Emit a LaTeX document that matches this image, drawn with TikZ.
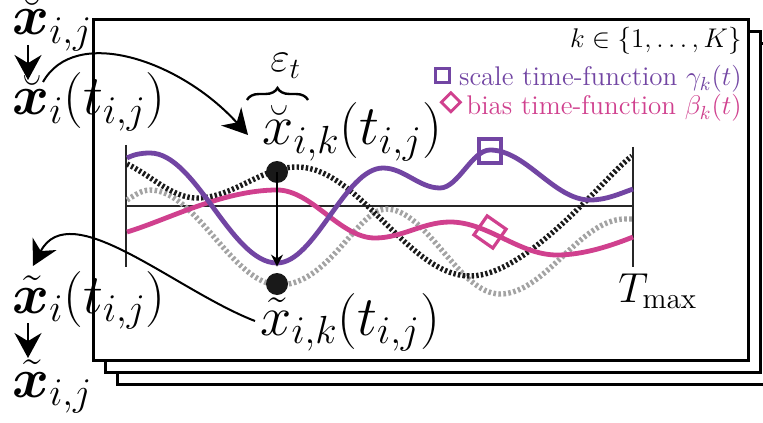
\RequirePackage{fix-cm}
\documentclass[tikz,border=0pt]{standalone}
\usepackage{amsmath,bm}
\usepackage{xcolor}
\definecolor{cScale}{HTML}{7245A3}
\definecolor{cBias}{HTML}{D0408E}
\definecolor{cOrig}{HTML}{1A1A1A}
\definecolor{cAug}{HTML}{A3A3A3}
\usetikzlibrary{positioning,arrows.meta,shapes.geometric,decorations.pathreplacing}
\tikzset{
  stack-frame/.style={draw=black,line width=1.5pt,fill=white},
  axis-line/.style={draw=black!85,line width=1pt},
  curve-scale/.style={draw=cScale,line width=2.4pt},
  curve-bias/.style={draw=cBias,line width=2.4pt},
  curve-orig/.style={draw=cOrig,line width=2.7pt,dash pattern=on 1.2pt off 1.1pt},
  curve-aug/.style={draw=cAug,line width=2.7pt,dash pattern=on 1.3pt off 1.2pt},
  label-big/.style={inner sep=0pt,font=\fontsize{28}{32}\selectfont},
  label-mid/.style={inner sep=0pt,font=\fontsize{21}{24}\selectfont},
  label-small/.style={inner sep=0pt,font=\fontsize{13.5}{16}\selectfont},
  arrow-big/.style={-{Stealth[length=12.5pt,width=13.5pt]},line width=1pt},
  arrow-thin/.style={-{Stealth[length=6pt,width=6pt]},line width=1pt},
  point-dot/.style={circle,fill=black!90,minimum size=11pt,inner sep=0pt},
  mark-scale/.style={draw=cScale,line width=1.8pt,minimum width=11pt,minimum height=12pt,inner sep=0pt},
  mark-bias/.style={diamond,draw=cBias,line width=1.6pt,minimum size=17pt,inner sep=0pt,rotate=10},
  key-scale/.style={draw=cScale,line width=1.4pt,minimum size=7pt,inner sep=0pt},
  key-bias/.style={diamond,draw=cBias,line width=1.4pt,minimum size=10pt,inner sep=0pt},
  brace-eps/.style={decorate,decoration={brace,amplitude=6pt},line width=1.2pt},
}
\begin{document}
\begin{tikzpicture}[x=0.5pt,y=-0.5pt]
  \useasboundingbox (0,0) rectangle (763,422);
  % stacked frames, one per k
  \draw[stack-frame] (117,44) rectangle (772,384);
  \draw[stack-frame] (105,32) rectangle (760,372);
  \draw[stack-frame] (93,20) rectangle (748,360);

  % time axis
  \draw[axis-line] (126,145) -- (126,267);
  \draw[axis-line] (633,147) -- (633,267);
  \draw[axis-line] (126,206) -- (633,206);

  \draw[curve-aug] (127,200) .. controls +(8,-5) and +(-8,0) .. (150,190)
    .. controls +(46,0) and +(-46,0) .. (279,285)
    .. controls +(50,0) and +(-28,0) .. (386,209)
    .. controls +(41,0) and +(-41,0) .. (500,294)
    .. controls +(45,0) and +(-45,0) .. (625,219) -- (633,219);
  \draw[curve-orig] (127,164) .. controls +(25,12) and +(-25,0) .. (197,198)
    .. controls +(36,0) and +(-36,0) .. (297,167)
    .. controls +(62,0) and +(-62,0) .. (470,276)
    .. controls +(58,0) and +(-25,18) .. (632,156);
  \draw[curve-bias] (127,232) .. controls +(40,-12) and +(-54,0) .. (277,190)
    .. controls +(35,0) and +(-35,0) .. (375,238)
    .. controls +(27,0) and +(-27,0) .. (450,222)
    .. controls +(38,0) and +(-38,0) .. (557,255)
    .. controls +(27,0) and +(-20,8) .. (633,237);
  \draw[curve-scale] (127,158) .. controls +(8,-4) and +(-8,0) .. (150,153)
    .. controls +(46,0) and +(-46,0) .. (277,263)
    .. controls +(38,0) and +(-38,0) .. (383,168)
    .. controls +(21,0) and +(-21,0) .. (440,188)
    .. controls +(18,0) and +(-18,0) .. (490,150)
    .. controls +(36,0) and +(-36,0) .. (590,200)
    .. controls +(16,0) and +(-14,5) .. (633,189);

  \node[mark-scale] (msc) at (490,151) {};
  \node[mark-bias]  (mbi) at (490,232) {};

  \node[point-dot] (dtop) at (277,172) {};
  \node[point-dot] (dbot) at (277,284) {};
  \draw[arrow-thin] (dtop.center) -- ([yshift=3pt]dbot.north);

  % labels
  \node[label-big,anchor=base west] (xb-ij) at (12,35)  {$\breve{\bm{x}}_{i,j}$};
  \node[label-big,anchor=base west] (xb-i)  at (12,115) {$\breve{\bm{x}}_i(t_{i,j})$};
  \node[label-big,anchor=base west] (xb-ik) at (262,145) {$\breve{x}_{i,k}(t_{i,j})$};
  \node[label-big,anchor=base west] (xt-ik) at (260,335) {$\tilde{x}_{i,k}(t_{i,j})$};
  \node[label-big,anchor=base west] (xt-i)  at (12,313) {$\tilde{\bm{x}}_i(t_{i,j})$};
  \node[label-big,anchor=base west] (xt-ij) at (12,397) {$\tilde{\bm{x}}_{i,j}$};
  \node[label-mid,anchor=base west] (eps)   at (270,72)  {$\varepsilon_t$};
  \node[label-mid,anchor=base west] (tmax)  at (618,302) {$T_{\max}$};
  \node[label-small,anchor=base east] (krange) at (742,48) {$k \in \{1,\ldots,K\}$};
  \node[label-small,anchor=base east,text=cScale] (lscale) at (742,86)
    {scale time-function $\gamma_k(t)$};
  \node[label-small,anchor=base east,text=cBias] (lbias) at (742,115)
    {bias time-function $\beta_k(t)$};
  \node[key-scale,left=4pt of lscale.west,yshift=2pt] (kscale) {};
  \node[key-bias,left=2pt of lbias.west,yshift=3pt] (kbias) {};

  \draw[brace-eps] (247,100) -- (308,100);

  \draw[arrow-big] ([xshift=8pt,yshift=-5pt]xb-ij.base west) -- ([xshift=8pt,yshift=17.5pt]xb-i.base west);
  \draw[arrow-big] ([xshift=8pt,yshift=-5pt]xt-i.base west) -- ([xshift=8pt,yshift=19.5pt]xt-ij.base west);
  \draw[arrow-big] ([xshift=15.5pt,yshift=16.5pt]xb-i.base west)
    .. controls +(32,-57) and +(-68,-75) .. ([xshift=-7pt,yshift=5pt]xb-ik.base west);
  \draw[arrow-big] ([xshift=-2.5pt,yshift=7pt]xt-ik.base west)
    .. controls +(-80,-31) and +(37,-71) .. ([xshift=10.5pt,yshift=23.5pt]xt-i.base west);
\end{tikzpicture}
\end{document}
